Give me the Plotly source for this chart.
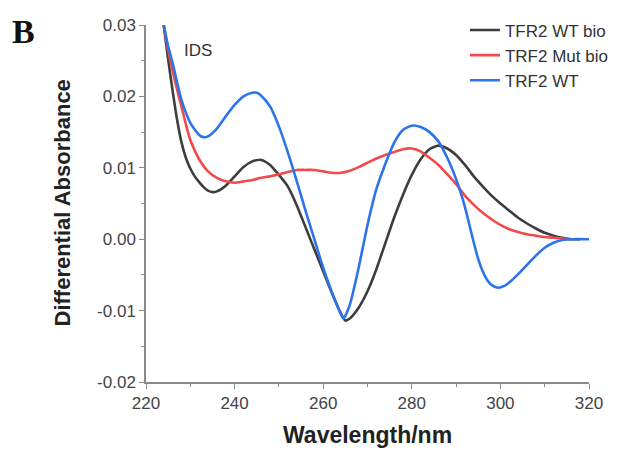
import plotly.graph_objects as go

# Wavelength (nm) and differential absorbance for each series
wl_black = [224, 225, 226, 227, 228, 229, 230, 231, 232, 233, 234, 235, 236, 238, 240, 242, 244, 246,
            248, 250, 252, 254, 256, 258, 260, 262, 264, 265, 266, 268, 270, 272, 274, 276, 278, 280,
            282, 284, 286, 288, 290, 292, 294, 296, 298, 300, 302, 304, 306, 308, 310, 312, 314, 316, 318]
abs_black = [0.0300, 0.0252, 0.0208, 0.0168, 0.0136, 0.0114, 0.0099, 0.0088, 0.0080, 0.0073, 0.0068,
             0.0066, 0.0067, 0.0075, 0.0088, 0.0101, 0.0109, 0.0111, 0.0104, 0.0090, 0.0074, 0.0048,
             0.0017, -0.0014, -0.0045, -0.0076, -0.0104, -0.0114, -0.0111, -0.0096, -0.0073, -0.0042,
             -0.0006, 0.0030, 0.0062, 0.0090, 0.0112, 0.0126, 0.0131, 0.0127, 0.0118, 0.0104, 0.0088,
             0.0074, 0.0061, 0.0050, 0.0040, 0.0030, 0.0022, 0.0015, 0.0009, 0.0005, 0.0002, 0.0000,
             0.0000]

wl_red = [224, 225, 226, 227, 228, 229, 230, 232, 234, 236, 238, 240, 242, 244, 246, 248, 250, 252,
          254, 256, 258, 260, 262, 264, 266, 268, 270, 272, 274, 276, 278, 280, 282, 284, 286, 288,
          290, 292, 294, 296, 298, 300, 302, 304, 306, 308, 310, 312, 314, 316]
abs_red = [0.0300, 0.0265, 0.0236, 0.0210, 0.0186, 0.0161, 0.0139, 0.0112, 0.0095, 0.0086, 0.0081,
           0.0079, 0.0081, 0.0083, 0.0086, 0.0088, 0.0091, 0.0094, 0.0097, 0.0097, 0.0097, 0.0095,
           0.0093, 0.0093, 0.0096, 0.0101, 0.0107, 0.0113, 0.0118, 0.0122, 0.0126, 0.0127, 0.0123,
           0.0114, 0.0104, 0.0091, 0.0077, 0.0061, 0.0048, 0.0037, 0.0028, 0.0020, 0.0014, 0.0010,
           0.0007, 0.0005, 0.0003, 0.0002, 0.0001, 0.0000]

wl_blue = [224, 225, 226, 228, 230, 232, 233, 234, 236, 238, 240, 242, 244, 245, 246, 248, 250, 252,
           254, 256, 258, 260, 262, 264, 264.6, 266, 268, 270, 272, 274, 276, 278, 280, 282, 284, 286,
           288, 289, 290, 291, 292, 293, 294, 295, 296, 297, 298, 299.4, 301, 302.5, 304, 306, 308,
           310, 312, 314, 316, 320]
abs_blue = [0.0300, 0.0270, 0.0247, 0.0195, 0.0163, 0.0146, 0.0143, 0.0144, 0.0155, 0.0172, 0.0188,
            0.0200, 0.0205, 0.0205, 0.0201, 0.0186, 0.0158, 0.0122, 0.0082, 0.0040, 0.0000, -0.0040,
            -0.0075, -0.0105, -0.0111, -0.0092, -0.0040, 0.0020, 0.0070, 0.0105, 0.0135, 0.0153,
            0.0159, 0.0157, 0.0150, 0.0137, 0.0114, 0.0100, 0.0084, 0.0066, 0.0045, 0.0020, -0.0005,
            -0.0028, -0.0045, -0.0057, -0.0064, -0.0068, -0.0065, -0.0058, -0.0049, -0.0036, -0.0023,
            -0.0012, -0.0005, -0.0001, 0.0000, 0.0000]

series_names = ["TFR2 WT bio", "TRF2 Mut bio", "TRF2 WT"]
x_ticks = [220, 240, 260, 280, 300, 320]
y_ticks = [-0.02, -0.01, 0.00, 0.01, 0.02, 0.03]
y_tick_text = ["-0.02", "-0.01", "0.00", "0.01", "0.02", "0.03"]

colors = ["#3d3d3d", "#f24a4a", "#2b74ea"]

fig = go.Figure()
for name, xs, ys, c in zip(series_names, [wl_black, wl_red, wl_blue],
                           [abs_black, abs_red, abs_blue], colors):
    fig.add_trace(go.Scatter(x=xs, y=ys, mode="lines", name=name,
                             line=dict(color=c, width=2.6, shape="spline", smoothing=0.6)))

axis_color = "#8a8a8a"
fig.update_layout(
    width=620, height=450,
    margin=dict(l=146, r=31, t=25, b=68, autoexpand=False),
    paper_bgcolor="white", plot_bgcolor="white",
    font=dict(family="Liberation Sans, Arial, sans-serif", color="#444"),
    showlegend=True,
    legend=dict(x=0.72, y=1.035, xanchor="left", yanchor="top",
                bgcolor="rgba(0,0,0,0)", font=dict(size=17, color="#333"),
                tracegroupgap=0, itemwidth=30),
    xaxis=dict(range=[220, 320], tickvals=x_ticks, showgrid=False, zeroline=False,
               showline=True, linecolor=axis_color, linewidth=1.5,
               ticks="outside", ticklen=5, tickcolor=axis_color, tickwidth=1.2,
               tickfont=dict(size=17, color="#444"),
               minor=dict(ticks="outside", ticklen=3, dtick=10, tickcolor=axis_color, showgrid=False)),
    yaxis=dict(range=[-0.02, 0.03], tickvals=y_ticks, ticktext=y_tick_text, showgrid=False,
               zeroline=False, showline=True, linecolor=axis_color, linewidth=1.5,
               ticks="outside", ticklen=5, tickcolor=axis_color, tickwidth=1.2,
               tickfont=dict(size=17, color="#444"),
               minor=dict(ticks="outside", ticklen=3, dtick=0.005, tickcolor=axis_color, showgrid=False)),
)

fig.add_annotation(text="<b>Wavelength/nm</b>", xref="paper", yref="paper", x=0.5, y=0,
                   xanchor="center", yanchor="middle", yshift=-53, showarrow=False,
                   font=dict(size=23, color="#222"))
fig.add_annotation(text="<b>Differential Absorbance</b>", xref="paper", yref="paper", x=0, y=0.5,
                   xanchor="center", yanchor="middle", xshift=-84, textangle=-90, showarrow=False,
                   font=dict(size=22, color="#222"))
fig.add_annotation(text="<b>B</b>", xref="paper", yref="paper", x=0, y=1, xanchor="left",
                   yanchor="top", xshift=-136, yshift=14, showarrow=False,
                   font=dict(size=34, family="Liberation Serif, Times New Roman, serif", color="#111"))
fig.add_annotation(text="IDS", xref="paper", yref="paper", x=0.082, y=0.962, xanchor="left",
                   showarrow=False, font=dict(size=17, color="#333"))

fig.write_html("out.html")
